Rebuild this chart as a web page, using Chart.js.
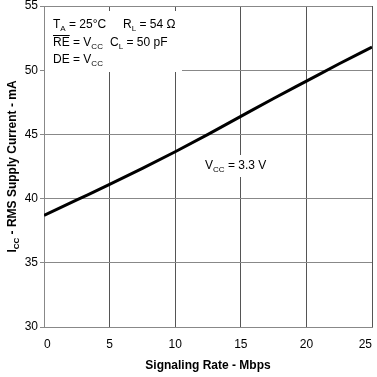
<!DOCTYPE html>
<html>
<head>
<meta charset="utf-8">
<script src="https://cdn.jsdelivr.net/npm/chart.js@4/dist/chart.umd.min.js"></script>
<style>
  html, body { margin: 0; padding: 0; background: #fff; }
  #wrap { width: 377px; height: 377px; }
</style>
</head>
<body>
<div id="wrap"><canvas id="chart" width="377" height="377"></canvas></div>
<script>
// signaling rate (Mbps) and supply current (mA)
const rates = [0, 2.5, 5, 7.5, 10, 12.5, 15, 17.5, 20, 22.5, 25]
const iccVals = [38.7, 39.9, 41.1, 42.35, 43.65, 45.0, 46.4, 47.8, 49.15, 50.5, 51.8]
const xTicks = [0, 5, 10, 15, 20, 25]
const yTicks = [30, 35, 40, 45, 50, 55]

const FONT = '"Liberation Sans", Arial, sans-serif'

// draw text made of parts, some parts are subscripts, some overlined
const partFont = p => `${p.bold ? 'bold ' : ''}${p.sub ? 8 : 12}px ${FONT}`
const richWidth = (ctx, parts) => {
  let w = 0
  parts.forEach(p => {
    ctx.font = partFont(p)
    w += ctx.measureText(p.t).width
  })
  return w
}
const drawRich = (ctx, parts, x, y) => {
  parts.forEach(p => {
    ctx.font = partFont(p)
    const w = ctx.measureText(p.t).width
    ctx.fillText(p.t, x, p.sub ? y + 3 : y)
    if (p.over) ctx.fillRect(x, y - 11, w, 1)
    x += w
  })
}

const annotations = {
  id: 'annotations',
  beforeDatasetsDraw(chart) {
    const ctx = chart.ctx
    ctx.save()
    // white boxes behind the labels hide the grid, like in the original
    ctx.fillStyle = '#fff'
    ctx.fillRect(45, 11, 137, 61)
    ctx.fillRect(203, 155, 67, 22)
    ctx.fillStyle = '#000'
    ctx.textBaseline = 'alphabetic'
    ctx.textAlign = 'left'
    drawRich(ctx, [{t: 'T'}, {t: 'A', sub: true}, {t: ' = 25°C'}], 53, 28)
    drawRich(ctx, [{t: 'R'}, {t: 'L', sub: true}, {t: ' = 54 Ω'}], 123, 28)
    drawRich(ctx, [{t: 'RE', over: true}, {t: ' = V'}, {t: 'CC', sub: true}], 53, 46)
    drawRich(ctx, [{t: 'C'}, {t: 'L', sub: true}, {t: ' = 50 pF'}], 110, 46)
    drawRich(ctx, [{t: 'DE = V'}, {t: 'CC', sub: true}], 53, 63)
    drawRich(ctx, [{t: 'V'}, {t: 'CC', sub: true}, {t: ' = 3.3 V'}], 205, 169)
    ctx.restore()
  },
  afterDraw(chart) {
    const ctx = chart.ctx
    const area = chart.chartArea
    ctx.save()
    ctx.fillStyle = '#000'
    ctx.textBaseline = 'alphabetic'
    const xt = [{t: 'Signaling Rate - Mbps', bold: true}]
    const xw = richWidth(ctx, xt)
    drawRich(ctx, xt, (area.left + area.right) / 2 - xw / 2, 369)
    const yt = [{t: 'I', bold: true}, {t: 'CC', sub: true, bold: true}, {t: ' - RMS Supply Current - mA', bold: true}]
    const yw = richWidth(ctx, yt)
    ctx.translate(16, (area.top + area.bottom) / 2)
    ctx.rotate(-Math.PI / 2)
    drawRich(ctx, yt, -yw / 2, 0)
    ctx.restore()
  }
}

const data = {
  datasets: [
    {
      data: rates.map((r, i) => ({ x: r, y: iccVals[i] })),
      borderColor: '#000',
      borderWidth: 3,
      pointRadius: 0,
      showLine: true,
      cubicInterpolationMode: 'monotone',
      fill: false
    }
  ]
}

const config = {
  type: 'scatter',
  data: data,
  options: {
    responsive: false,
    maintainAspectRatio: false,
    animation: false,
    layout: { padding: { top: 6, right: 5, left: 0, bottom: 0 } },
    plugins: { legend: { display: false }, tooltip: { enabled: false } },
    scales: {
      x: {
        type: 'linear',
        min: 0,
        max: 25,
        afterBuildTicks: s => { s.ticks = xTicks.map(v => ({ value: v })) },
        afterFit: s => { s.height = 50; s.paddingLeft = 0; s.paddingRight = 0 },
        border: { color: '#888', width: 1 },
        grid: { color: '#555', lineWidth: 1, drawTicks: false },
        ticks: { color: '#000', font: { family: FONT, size: 12 }, padding: 10, maxRotation: 0, align: 'inner' }
      },
      y: {
        min: 30,
        max: 55,
        afterBuildTicks: s => { s.ticks = yTicks.map(v => ({ value: v })) },
        afterFit: s => { s.width = 44; s.paddingTop = 0; s.paddingBottom = 0 },
        border: { color: '#888', width: 1 },
        grid: { color: '#888', lineWidth: 1, tickLength: 4 },
        ticks: { color: '#000', font: { family: FONT, size: 12 }, padding: 2 }
      }
    }
  },
  plugins: [annotations]
}

new Chart(document.getElementById('chart'), config)
</script>
</body>
</html>
